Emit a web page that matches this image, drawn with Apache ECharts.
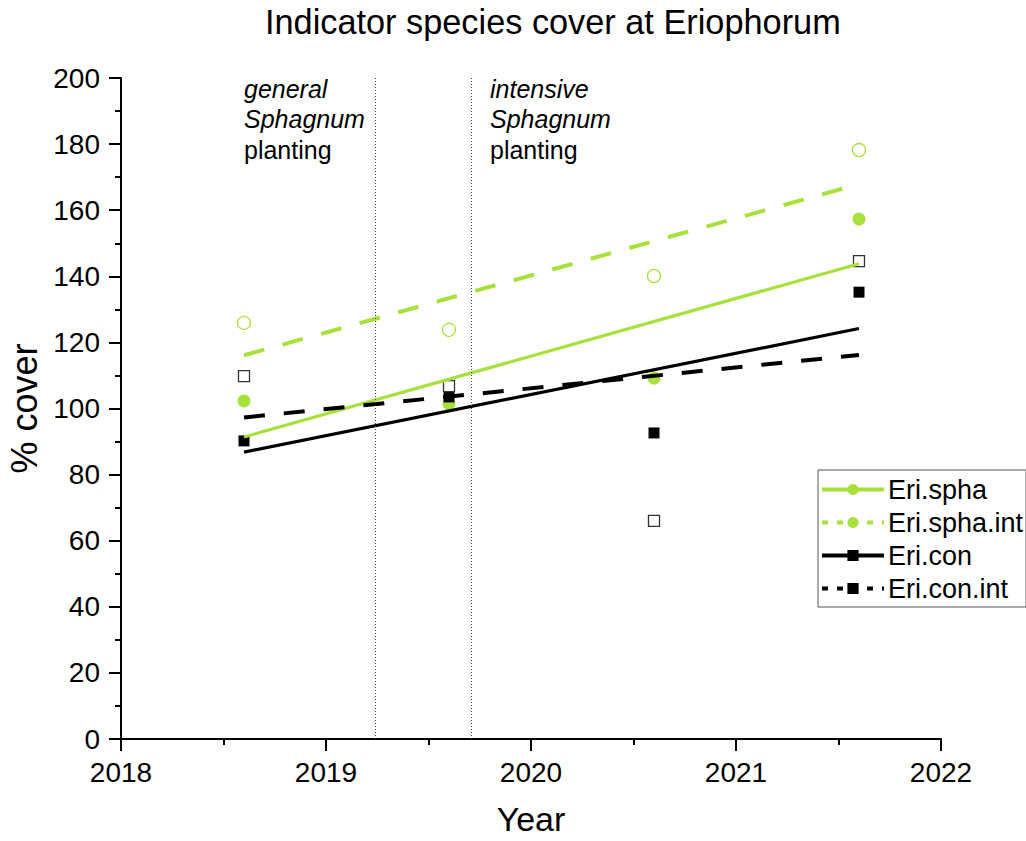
<!DOCTYPE html>
<html>
<head>
<meta charset="utf-8">
<script src="https://cdn.jsdelivr.net/npm/echarts@6/dist/echarts.min.js"></script>
<style>
html,body{margin:0;padding:0;background:#fff;}
#chart{width:1026px;height:841px;}
</style>
</head>
<body>
<div id="chart"></div>
<script>
// ---- data ----
const years = [2018.6, 2019.6, 2020.6, 2021.6];
const sphaPoints    = [102.3, 101.4, 109.2, 157.3];
const sphaIntPoints = [125.9, 123.8, 140.1, 178.2];
const conPoints     = [90.2, 103.5, 92.6, 135.2];
const conIntPoints  = [109.8, 106.8, 66.0, 144.6];
// fitted trend lines (start / end values)
const fitYears   = [2018.6, 2021.6];
const sphaFit    = [91.4, 143.8];
const sphaIntFit = [116.1, 167.9];
const conFit     = [86.8, 124.2];
const conIntFit  = [97.3, 116.2];
const plantingYears = [2019.24, 2019.71];
const xTicks = [2018, 2019, 2020, 2021, 2022];
const yTicks = [0, 20, 40, 60, 80, 100, 120, 140, 160, 180, 200];
const seriesNames = ['Eri.spha', 'Eri.spha.int', 'Eri.con', 'Eri.con.int'];

const GREEN = '#a8e03c';
const FONT = '"Liberation Sans", Arial, sans-serif';

function pairs(xs, ys) { return xs.map((x, i) => [x, ys[i]]); }

const chart = echarts.init(document.getElementById('chart'), null, {renderer: 'svg'});

const option = {
  animation: false,
  backgroundColor: '#fff',
  textStyle: {fontFamily: FONT, color: '#000'},
  title: {
    text: 'Indicator species cover at Eriophorum',
    left: 260, top: 0,
    textStyle: {fontFamily: FONT, fontSize: 34.3, fontWeight: 'normal', color: '#000'}
  },
  grid: {left: 121, right: 85, top: 78, bottom: 102, containLabel: false, outerBoundsMode: 'none'},
  legend: {
    orient: 'vertical',
    left: 818, top: 470,
    padding: [6, 3, 5, 2],
    itemWidth: 62, itemHeight: 14, itemGap: 6,
    borderColor: '#555', borderWidth: 1,
    textStyle: {fontFamily: FONT, fontSize: 27, color: '#000', padding: [0,0,0,-1]},
    lineStyle: {width: 4},
    data: [
      {name: seriesNames[0]},
      {name: seriesNames[1], lineStyle: {type: [6, 9]}},
      {name: seriesNames[2]},
      {name: seriesNames[3], lineStyle: {type: [6, 9]}}
    ]
  },
  xAxis: {
    type: 'value', min: xTicks[0], max: xTicks[xTicks.length - 1], interval: 1,
    name: 'Year', nameLocation: 'middle', nameGap: 63,
    nameTextStyle: {fontFamily: FONT, fontSize: 34, color: '#000', lineHeight: 34},
    axisLine: {show: true, onZero: false, lineStyle: {color: '#000', width: 2}},
    axisTick: {show: true, inside: false, length: 12, lineStyle: {color: '#000', width: 2}},
    minorTick: {show: true, splitNumber: 2, length: 6, lineStyle: {color: '#000', width: 2}},
    axisLabel: {fontFamily: FONT, fontSize: 28, color: '#000', margin: 19,
      formatter: v => String(Math.round(v))},
    splitLine: {show: false}
  },
  yAxis: {
    type: 'value', min: yTicks[0], max: yTicks[yTicks.length - 1], interval: 20,
    name: '% cover', nameLocation: 'middle', nameGap: 77,
    nameTextStyle: {fontFamily: FONT, fontSize: 36, color: '#000'},
    axisLine: {show: true, onZero: false, lineStyle: {color: '#000', width: 2}},
    axisTick: {show: true, inside: false, length: 12, lineStyle: {color: '#000', width: 2}},
    minorTick: {show: true, splitNumber: 2, length: 6, lineStyle: {color: '#000', width: 2}},
    axisLabel: {fontFamily: FONT, fontSize: 28, color: '#000', margin: 21},
    splitLine: {show: false}
  },
  series: [
    {
      name: seriesNames[0], type: 'line', data: pairs(fitYears, sphaFit),
      symbol: 'circle', showSymbol: false, z: 3,
      itemStyle: {color: GREEN}, lineStyle: {color: GREEN, width: 3.2},
      markLine: {
        silent: true, symbol: 'none', label: {show: false},
        lineStyle: {color: '#444', width: 1, type: [1, 2]},
        data: plantingYears.map(x => ({xAxis: x}))
      }
    },
    {
      name: seriesNames[1], type: 'line', data: pairs(fitYears, sphaIntFit),
      symbol: 'circle', showSymbol: false, z: 3,
      itemStyle: {color: GREEN}, lineStyle: {color: GREEN, width: 4, type: [21, 19]}
    },
    {
      name: seriesNames[2], type: 'line', data: pairs(fitYears, conFit),
      symbol: 'rect', showSymbol: false, z: 3,
      itemStyle: {color: '#000'}, lineStyle: {color: '#000', width: 3.2}
    },
    {
      name: seriesNames[3], type: 'line', data: pairs(fitYears, conIntFit),
      symbol: 'rect', showSymbol: false, z: 3,
      itemStyle: {color: '#000'}, lineStyle: {color: '#000', width: 4, type: [21, 19]}
    },
    {
      name: 'Eri.spha points', type: 'scatter', data: pairs(years, sphaPoints),
      symbol: 'circle', symbolSize: 13, z: 2,
      itemStyle: {color: GREEN, opacity: 1}
    },
    {
      name: 'Eri.spha.int points', type: 'scatter', data: pairs(years, sphaIntPoints),
      symbol: 'circle', symbolSize: 13, z: 2,
      itemStyle: {color: 'rgba(255,255,255,0)', borderColor: GREEN, borderWidth: 1.3, opacity: 1}
    },
    {
      name: 'Eri.con points', type: 'scatter', data: pairs(years, conPoints),
      symbol: 'rect', symbolSize: 11, z: 2,
      itemStyle: {color: '#000', opacity: 1}
    },
    {
      name: 'Eri.con.int points', type: 'scatter', data: pairs(years, conIntPoints),
      symbol: 'rect', symbolSize: 11, z: 2,
      itemStyle: {color: '#fff', borderColor: '#333', borderWidth: 1.3, opacity: 1}
    }
  ]
};

chart.setOption(option);

// annotations anchored to data coordinates
const noteAnchors = [[2018.6, 200], [2019.8, 200]];
const noteTexts = [
  '{i|general}\n{i|Sphagnum}\n{n|planting}',
  '{i|intensive}\n{i|Sphagnum}\n{n|planting}'
];
const rich = {
  i: {fontFamily: FONT, fontSize: 25, fontStyle: 'italic', color: '#000', lineHeight: 30.5},
  n: {fontFamily: FONT, fontSize: 25, color: '#000', lineHeight: 30.5}
};
const graphics = noteAnchors.map((a, k) => {
  const p = chart.convertToPixel({gridIndex: 0}, a);
  return {
    type: 'text', left: p[0], top: p[1] - 2, silent: true,
    style: {text: noteTexts[k], rich: rich, fill: '#000', font: '25px ' + FONT}
  };
});
chart.setOption({graphic: graphics});
</script>
</body>
</html>
